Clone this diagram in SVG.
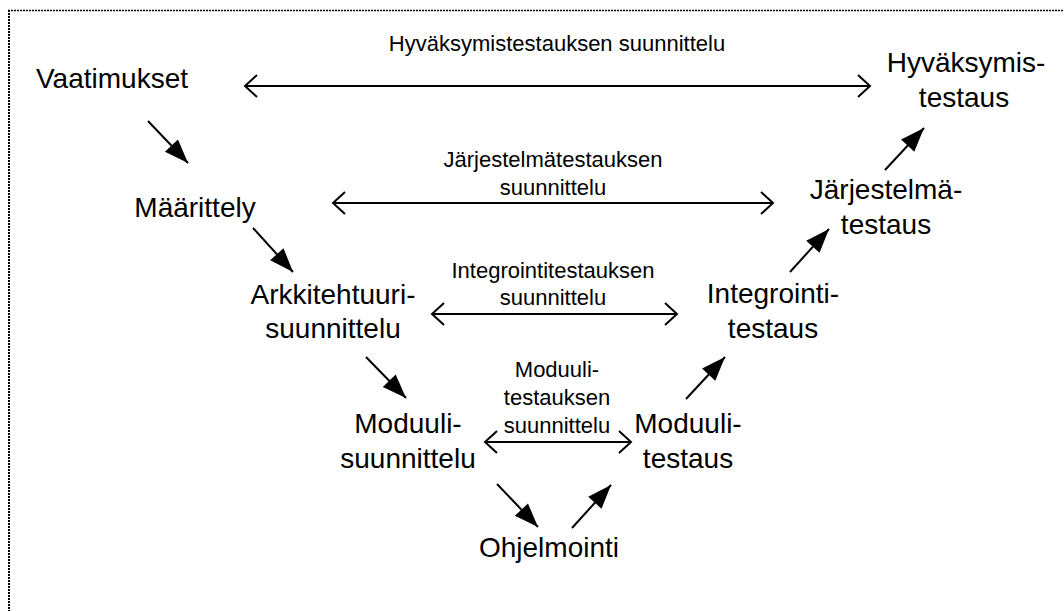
<svg xmlns="http://www.w3.org/2000/svg" width="1064" height="611" viewBox="0 0 1064 611">
<style>
.n{font-family:"Liberation Sans",Arial,sans-serif;font-size:28px;fill:#000;text-anchor:middle}
.l{font-family:"Liberation Sans",Arial,sans-serif;font-size:22px;fill:#000;text-anchor:middle}
.h{stroke:#000;stroke-width:2;fill:none;marker-start:url(#open);marker-end:url(#open)}
.d{stroke:#000;stroke-width:2;fill:none;marker-end:url(#solid)}
</style>
<defs>
<marker id="open" markerUnits="userSpaceOnUse" viewBox="-14 -12 16 24" refX="0" refY="0" markerWidth="16" markerHeight="24" orient="auto-start-reverse" overflow="visible">
<path d="M-12,-11 L0,0 L-12,11" fill="none" stroke="#000" stroke-width="2"/>
</marker>
<marker id="solid" markerUnits="userSpaceOnUse" viewBox="-25 -10 26 20" refX="0" refY="0" markerWidth="26" markerHeight="20" orient="auto" overflow="visible">
<path d="M0,0 L-24,-9 L-24,9 Z" fill="#000"/>
</marker>
</defs>
<line x1="9" y1="10" x2="9" y2="611" stroke="#000" stroke-width="2" stroke-dasharray="2 1"/>
<line x1="8" y1="10.5" x2="1064" y2="10.5" stroke="#000" stroke-width="1.5" stroke-dasharray="2 1"/>
<g id="connectors">
<line class="h" x1="245" y1="86" x2="870" y2="86"/>
<line class="h" x1="333" y1="203" x2="773" y2="203"/>
<line class="h" x1="432" y1="314" x2="677" y2="314"/>
<line class="h" x1="485" y1="442" x2="631" y2="442"/>
<line class="d" x1="148" y1="121" x2="188" y2="163"/>
<line class="d" x1="253" y1="228" x2="293" y2="272"/>
<line class="d" x1="366" y1="357" x2="406" y2="398"/>
<line class="d" x1="497" y1="484" x2="538" y2="527"/>
<line class="d" x1="572" y1="528" x2="611" y2="485"/>
<line class="d" x1="686" y1="399" x2="725" y2="357"/>
<line class="d" x1="790" y1="272" x2="829" y2="229"/>
<line class="d" x1="885" y1="170" x2="924" y2="128"/>
</g>
<g id="label-hyvaksymis"><text class="l" x="557" y="51">Hyväksymistestauksen suunnittelu</text></g>
<g id="label-jarjestelma"><text class="l" x="553" y="167">Järjestelmätestauksen</text><text class="l" x="553" y="195">suunnittelu</text></g>
<g id="label-integrointi"><text class="l" x="553" y="278">Integrointitestauksen</text><text class="l" x="553" y="305">suunnittelu</text></g>
<g id="label-moduuli"><text class="l" x="557" y="377">Moduuli-</text><text class="l" x="557" y="405">testauksen</text><text class="l" x="557" y="433">suunnittelu</text></g>
<g id="node-vaatimukset"><text class="n" x="112" y="88">Vaatimukset</text></g>
<g id="node-maarittely"><text class="n" x="195" y="217">Määrittely</text></g>
<g id="node-arkkitehtuuri"><text class="n" x="333" y="304">Arkkitehtuuri-</text><text class="n" x="333" y="338">suunnittelu</text></g>
<g id="node-moduulisuunnittelu"><text class="n" x="408" y="433">Moduuli-</text><text class="n" x="408" y="468">suunnittelu</text></g>
<g id="node-ohjelmointi"><text class="n" x="549" y="557">Ohjelmointi</text></g>
<g id="node-moduulitestaus"><text class="n" x="688" y="433">Moduuli-</text><text class="n" x="688" y="468">testaus</text></g>
<g id="node-integrointitestaus"><text class="n" x="773" y="303">Integrointi-</text><text class="n" x="773" y="338">testaus</text></g>
<g id="node-jarjestelmatestaus"><text class="n" x="886" y="199">Järjestelmä-</text><text class="n" x="886" y="234">testaus</text></g>
<g id="node-hyvaksymistestaus"><text class="n" x="966" y="72">Hyväksymis-</text><text class="n" x="964" y="107">testaus</text></g>
</svg>
